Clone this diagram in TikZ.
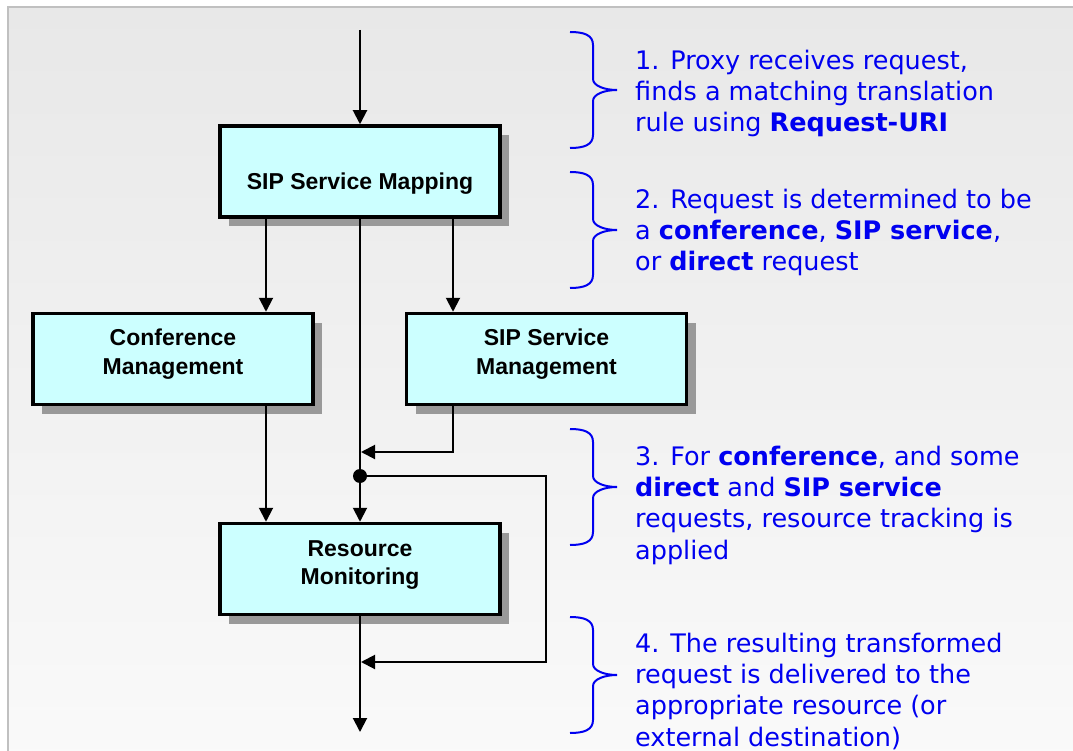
\documentclass[tikz,border=0pt]{standalone}
\usepackage{fontspec}
\setmainfont{Liberation Sans}
\newfontfamily\verd{DejaVu Sans}
\usetikzlibrary{arrows.meta,shadows}
\definecolor{bgtop}{HTML}{E8E8E8}
\definecolor{bgbot}{HTML}{FAFAFA}
\definecolor{framegray}{HTML}{C0C0C0}
\definecolor{boxfill}{HTML}{CCFFFF}
\definecolor{shadowgray}{HTML}{999999}
\definecolor{txtblue}{RGB}{0,0,240}
\tikzset{
  boxstyle/.style={draw=black, line width=3.5pt, fill=boxfill, minimum width=280pt,
    minimum height=91pt, inner sep=0pt,
    drop shadow={shadow xshift=9pt, shadow yshift=-9pt, opacity=1, fill=shadowgray}},
  lbl/.style={font={\bfseries\fontsize{23pt}{28.5pt}\selectfont}, align=center, inner sep=0pt, anchor=base},
  arr/.style={line width=2pt, -{Triangle[length=14pt,width=14pt]}},
  bracestyle/.style={draw=txtblue, line width=2pt},
  txt/.style={anchor=base west, align=left, inner sep=0pt, text=txtblue,
    font={\verd\fontsize{25.5pt}{31.3pt}\selectfont}},
  pics/rbrace/.style={code={
    \draw[bracestyle] (-23,-58) .. controls (-9,-58) and (0,-55) .. (0,-45) -- (0,-11)
      .. controls (0,-4) and (12,0) .. (24,0)
      .. controls (12,0) and (0,4) .. (0,11) -- (0,45)
      .. controls (0,55) and (-9,58) .. (-23,58);
  }}
}
\begin{document}
\begin{tikzpicture}[x=1pt,y=-1pt]
\useasboundingbox (0,0) rectangle (1073,751);
\fill[white] (0,0) rectangle (1073,751);
\shade[top color=bgtop, bottom color=bgbot] (8,7) rectangle (1090,770);
\draw[framegray, line width=2pt] (8,770) -- (8,7) -- (1090,7);

% boxes
\node[boxstyle] (map) at (360,171.5) {};
\node[boxstyle] (conf) at (173,359) {};
\node[boxstyle] (svc) at (546.5,359) {};
\node[boxstyle] (res) at (360,569) {};

% labels (anchor base = baseline of last line)
\node[lbl] (mapT) at (360,190) {SIP Service Mapping};
\node[lbl] (confT) at (173,374) {Conference\\Management};
\node[lbl] (svcT) at (546.5,374) {SIP Service\\Management};
\node[lbl] (resT) at (360,584.5) {Resource\\Monitoring};

% coordinates
\coordinate (top) at (360,30);
\coordinate (xL) at (266,0);
\coordinate (xR) at (453,0);
\coordinate (j1) at (361,452);
\coordinate (lc2) at (546,662);
\coordinate (j2) at (361,662);
\coordinate (out) at (360,732);
\node[circle, fill=black, inner sep=0pt, minimum size=14pt] (dot) at (360,476) {};

% connectors
\draw[arr] (top) -- (map.north);
\draw[arr] (map.south -| xL) -- (conf.north -| xL);
\draw[arr] (map.south -| xR) -- (svc.north -| xR);
\draw[arr] (map.south) -- (res.north);
\draw[arr] (conf.south -| xL) -- (res.north -| xL);
\draw[arr] (svc.south -| xR) |- (j1);
\draw[arr] (dot.center) -| (lc2) -- (j2);
\draw[arr] (res.south) -- (out);

% braces
\pic at (593,90) {rbrace};
\pic at (593,230) {rbrace};
\pic at (593,487) {rbrace};
\pic at (593,675) {rbrace};

% texts (anchor base = baseline of last line)
\node[txt] (t1) at (635,132) {1. Proxy receives request,\\finds a matching translation\\rule using \textbf{Request-URI}};
\node[txt] (t2) at (635,271) {2. Request is determined to be\\a \textbf{conference}, \textbf{SIP service},\\or \textbf{direct} request};
\node[txt] (t3) at (635,559) {3. For \textbf{conference}, and some\\\textbf{direct} and \textbf{SIP service}\\requests, resource tracking is\\applied};
\node[txt] (t4) at (635,746) {4. The resulting transformed\\request is delivered to the\\appropriate resource (or\\external destination)};
\end{tikzpicture}
\end{document}
